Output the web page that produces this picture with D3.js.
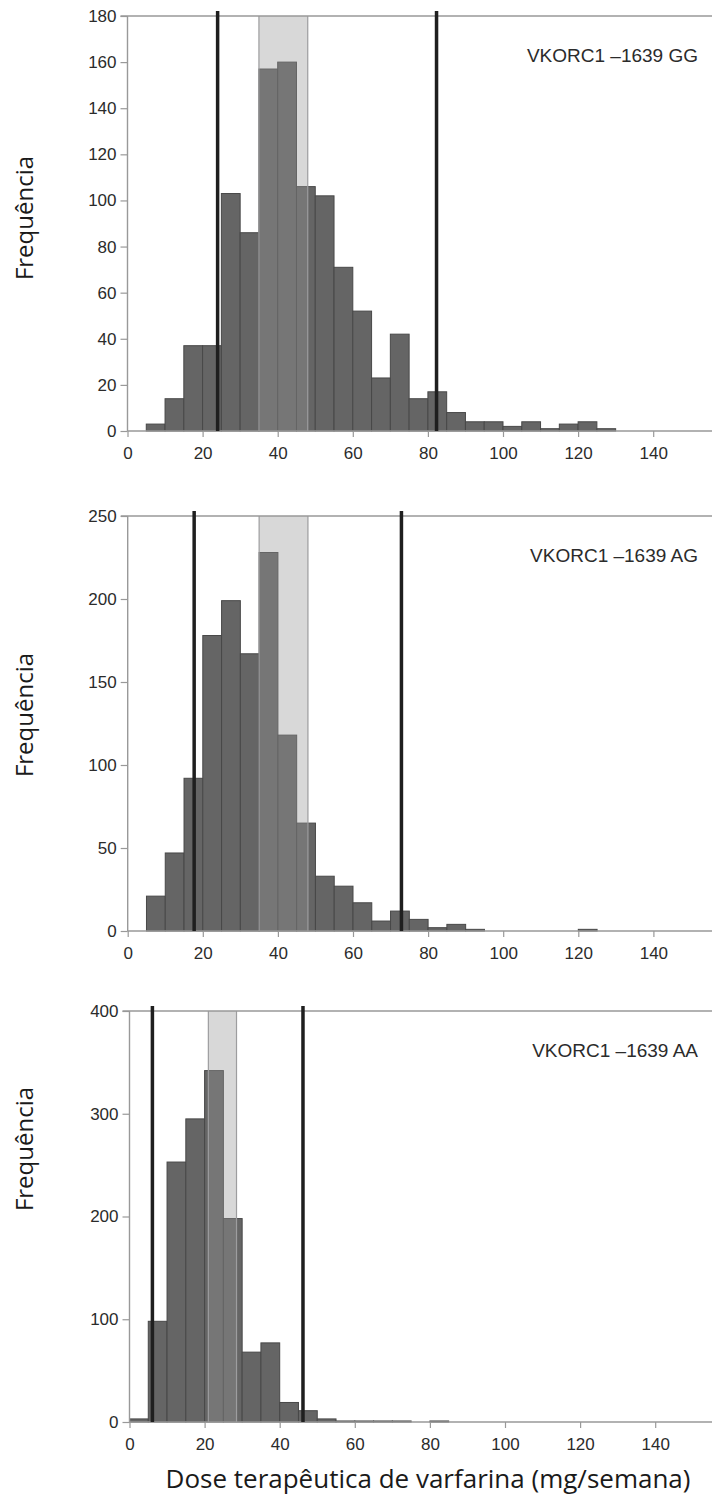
<!DOCTYPE html>
<html>
<head>
<meta charset="utf-8">
<script src="https://cdn.jsdelivr.net/npm/d3@7"></script>
<style>
  body { margin: 0; background: #fff; }
  svg { display: block; }
</style>
</head>
<body>
<svg id="chart" width="712" height="1506"></svg>
<script>
// Dados (frequência por classe de 5 mg/semana)
const binWidth = 5;
const startGG = 5;
const freqGG = [3, 14, 37, 37, 103, 86, 157, 160, 106, 102, 71, 52, 23, 42, 14, 17, 8, 4, 4, 2, 4, 1, 3, 4, 1];
const startAG = 5;
const freqAG = [21, 47, 92, 178, 199, 167, 228, 118, 65, 33, 27, 17, 6, 12, 7, 2, 4, 1, 0, 0, 0, 0, 0, 1];
const startAA = 0;
const freqAA = [3, 98, 253, 295, 342, 198, 68, 77, 19, 11, 3, 1, 1, 1, 1, 0, 1];

// faixa sombreada e limites (linhas verticais)
const bandGG = [35, 48];
const bandAG = [35, 48];
const bandAA = [21, 28.5];
const limitsGG = [24, 82.3];
const limitsAG = [17.7, 72.9];
const limitsAA = [6.1, 46.2];

const xTicks = [0, 20, 40, 60, 80, 100, 120, 140];
const yTicksGG = [0, 20, 40, 60, 80, 100, 120, 140, 160, 180];
const yTicksAG = [0, 50, 100, 150, 200, 250];
const yTicksAA = [0, 100, 200, 300, 400];

const labels = ['VKORC1 \u20131639 GG', 'VKORC1 \u20131639 AG', 'VKORC1 \u20131639 AA'];
const yTitle = 'Frequência';
const xTitle = 'Dose terapêutica de varfarina (mg/semana)';

const W = 712;
const svg = d3.select('#chart');

// layout de cada painel
const panels = [
    { start: startGG, freq: freqGG, band: bandGG, limits: limitsGG, yTicks: yTicksGG, label: labels[0], top: 16, bottom: 431, left: 127.5, titleY: 218 },
    { start: startAG, freq: freqAG, band: bandAG, limits: limitsAG, yTicks: yTicksAG, label: labels[1], top: 516, bottom: 931, left: 127.7, titleY: 715 },
    { start: startAA, freq: freqAA, band: bandAA, limits: limitsAA, yTicks: yTicksAA, label: labels[2], top: 1011, bottom: 1422, left: 129.5, titleY: 1149 }
];

const tickFont = '"Liberation Sans", Arial, sans-serif';
const titleFont = '"Open Sans", "Noto Sans", sans-serif';

panels.forEach((p) => {
    const g = svg.append('g');
    const x = d3.scaleLinear().domain([0, 140]).range([p.left, p.left + 525.7]);
    const y = d3.scaleLinear().domain([0, d3.max(p.yTicks)]).range([p.bottom, p.top]);

    const bins = p.freq.map((n, i) => ({ x0: p.start + i * binWidth, x1: p.start + (i + 1) * binWidth, n: n }))
        .filter(d => d.n > 0);

    // barras
    g.append('g').selectAll('rect')
        .data(bins)
        .join('rect')
        .attr('x', d => x(d.x0))
        .attr('width', d => x(d.x1) - x(d.x0))
        .attr('y', d => y(d.n))
        .attr('height', d => p.bottom - y(d.n))
        .attr('fill', '#656565')
        .attr('stroke', '#484848')
        .attr('stroke-width', 1);

    // faixa sombreada por cima (clareia as barras)
    g.append('rect')
        .attr('x', x(p.band[0]))
        .attr('width', x(p.band[1]) - x(p.band[0]))
        .attr('y', p.top)
        .attr('height', p.bottom - p.top)
        .attr('fill', '#949496')
        .attr('fill-opacity', 0.37);
    g.selectAll('line.band')
        .data(p.band)
        .join('line')
        .attr('class', 'band')
        .attr('x1', d => x(d)).attr('x2', d => x(d))
        .attr('y1', p.top).attr('y2', p.bottom)
        .attr('stroke', '#9d9d9f')
        .attr('stroke-width', 1.2);

    // eixo x
    const xAxis = g.append('g')
        .attr('transform', `translate(0,${p.bottom})`)
        .call(d3.axisBottom(x).tickValues(xTicks).tickSize(6).tickPadding(10).tickSizeOuter(0));
    xAxis.select('.domain').remove();
    xAxis.selectAll('line').attr('stroke', '#999').attr('stroke-width', 1.2);
    xAxis.selectAll('text').attr('fill', '#2b2b2b').style('font-family', tickFont).style('font-size', '17px');
    g.append('line')
        .attr('x1', p.left).attr('x2', W)
        .attr('y1', p.bottom).attr('y2', p.bottom)
        .attr('stroke', '#999').attr('stroke-width', 1.4);

    // eixo y
    const yAxis = g.append('g')
        .attr('transform', `translate(${p.left},0)`)
        .call(d3.axisLeft(y).tickValues(p.yTicks).tickSize(7).tickPadding(4).tickSizeOuter(0));
    yAxis.select('.domain').remove();
    yAxis.selectAll('line').attr('stroke', '#999').attr('stroke-width', 1.2);
    yAxis.selectAll('text').attr('fill', '#2b2b2b').style('font-family', tickFont).style('font-size', '17px');
    g.append('line')
        .attr('x1', p.left).attr('x2', p.left)
        .attr('y1', p.top).attr('y2', p.bottom)
        .attr('stroke', '#999').attr('stroke-width', 1.4);
    // borda superior
    g.append('line')
        .attr('x1', p.left - 7).attr('x2', W)
        .attr('y1', p.top).attr('y2', p.top)
        .attr('stroke', '#999').attr('stroke-width', 1.4);

    // linhas verticais escuras
    g.selectAll('line.limit')
        .data(p.limits)
        .join('line')
        .attr('class', 'limit')
        .attr('x1', d => x(d)).attr('x2', d => x(d))
        .attr('y1', p.top - 5).attr('y2', p.bottom)
        .attr('stroke', '#1f1f1f')
        .attr('stroke-width', 3.5);

    // rótulo do genótipo
    g.append('text')
        .attr('x', 698)
        .attr('y', p.top + 46)
        .attr('text-anchor', 'end')
        .attr('fill', '#2b2b2b')
        .style('font-family', tickFont)
        .style('font-size', '19px')
        .text(p.label);

    // título do eixo y
    g.append('text')
        .attr('transform', `translate(33,${p.titleY}) rotate(-90)`)
        .attr('text-anchor', 'middle')
        .attr('fill', '#1a1a1a')
        .style('font-family', titleFont)
        .style('font-size', '24px')
        .text(yTitle);
});

svg.append('text')
    .attr('x', 428)
    .attr('y', 1488)
    .attr('text-anchor', 'middle')
    .attr('fill', '#1a1a1a')
    .style('font-family', titleFont)
    .style('font-size', '26px')
    .text(xTitle);
</script>
</body>
</html>
